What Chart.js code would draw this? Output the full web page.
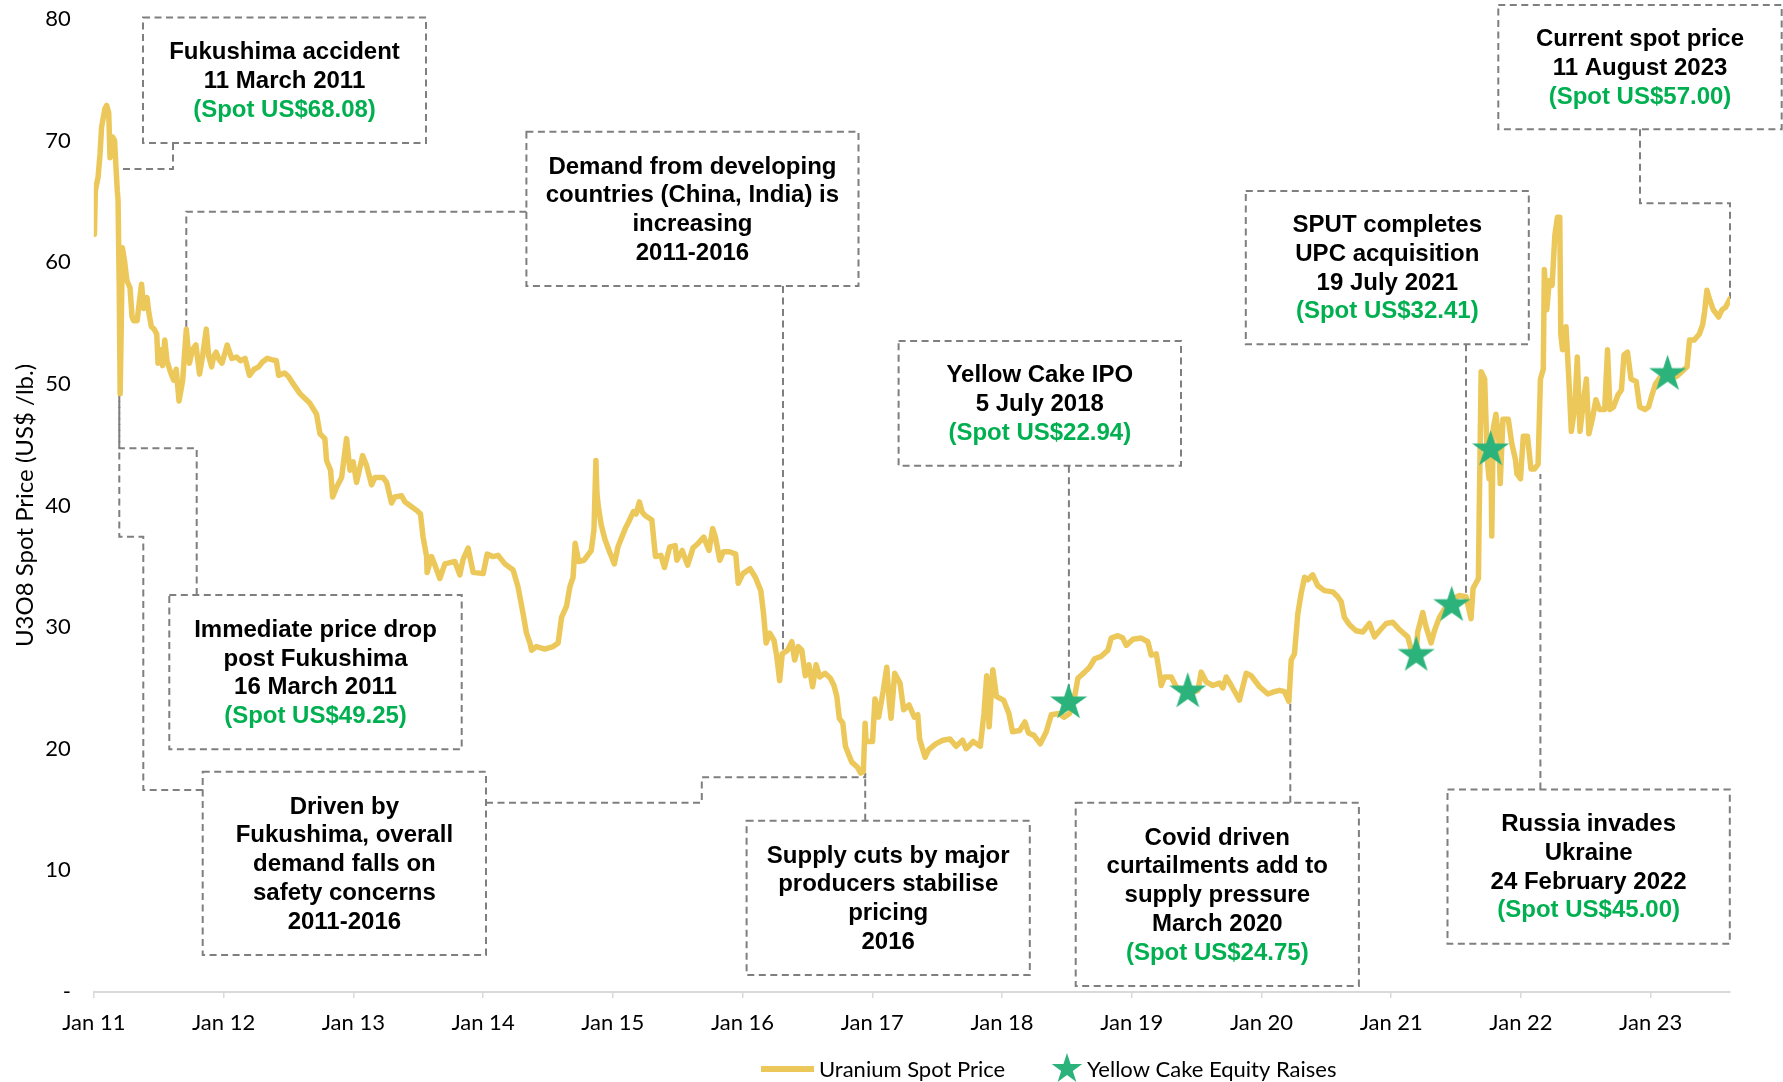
<!DOCTYPE html>
<html>
<head>
<meta charset="utf-8">
<title>U3O8 spot price</title>
<script src="https://cdn.jsdelivr.net/npm/chart.js@4.4.1/dist/chart.umd.min.js"></script>
<style>
  html, body { margin: 0; padding: 0; background: #fff; }
  canvas { display: block; }
</style>
</head>
<body>
<canvas id="spot-chart" width="1783" height="1082"></canvas>
<script>
// spot price readings, x as decimal year
const priceYears = [
  2011.005, 2011.012, 2011.033, 2011.048, 2011.060, 2011.085, 2011.099, 2011.115, 2011.125, 2011.145, 2011.160, 2011.171, 2011.181, 2011.187, 2011.196, 2011.203, 2011.212, 2011.220, 2011.237, 2011.255, 2011.279, 2011.295, 2011.307, 2011.334, 2011.352, 2011.368, 2011.385, 2011.410, 2011.425, 2011.444, 2011.465, 2011.485, 2011.495, 2011.515, 2011.530, 2011.547, 2011.564, 2011.590, 2011.616, 2011.635, 2011.657, 2011.672, 2011.685, 2011.713, 2011.737, 2011.760, 2011.787, 2011.815, 2011.840, 2011.867, 2011.885, 2011.908, 2011.925, 2011.943, 2011.965, 2011.988,
  2012.010, 2012.028, 2012.063, 2012.100, 2012.130, 2012.166, 2012.200, 2012.235, 2012.270, 2012.300, 2012.338, 2012.370, 2012.407, 2012.425, 2012.470, 2012.500, 2012.537, 2012.589, 2012.666, 2012.717, 2012.743, 2012.781, 2012.794, 2012.825, 2012.841, 2012.871, 2012.910, 2012.948, 2012.974, 2012.999,
  2013.025, 2013.072, 2013.102, 2013.141, 2013.166, 2013.230, 2013.257, 2013.295, 2013.320, 2013.372, 2013.398, 2013.436, 2013.488, 2013.518, 2013.538, 2013.565, 2013.569, 2013.603, 2013.629, 2013.667, 2013.706, 2013.783, 2013.821, 2013.847, 2013.885, 2013.924,
  2014.001, 2014.032, 2014.078, 2014.116, 2014.168, 2014.232, 2014.270, 2014.309, 2014.335, 2014.361, 2014.374, 2014.412, 2014.476, 2014.540, 2014.579, 2014.605, 2014.643, 2014.669, 2014.694, 2014.710, 2014.737, 2014.779, 2014.834, 2014.855, 2014.870, 2014.878, 2014.889, 2014.911, 2014.940, 2014.971,
  2015.012, 2015.040, 2015.096, 2015.120, 2015.159, 2015.180, 2015.205, 2015.225, 2015.247, 2015.301, 2015.329, 2015.371, 2015.398, 2015.439, 2015.481, 2015.494, 2015.535, 2015.577, 2015.618, 2015.659, 2015.701, 2015.742, 2015.770, 2015.791, 2015.825, 2015.852, 2015.900, 2015.948, 2015.967,
  2016.003, 2016.058, 2016.099, 2016.141, 2016.162, 2016.182, 2016.210, 2016.243, 2016.264, 2016.286, 2016.306, 2016.347, 2016.380, 2016.402, 2016.430, 2016.457, 2016.484, 2016.512, 2016.540, 2016.567, 2016.595, 2016.636, 2016.677, 2016.705, 2016.727, 2016.746, 2016.773, 2016.793, 2016.815, 2016.842, 2016.884, 2016.911, 2016.931, 2016.945, 2016.952,
  2017.002, 2017.021, 2017.049, 2017.085, 2017.112, 2017.130, 2017.145, 2017.173, 2017.214, 2017.242, 2017.283, 2017.324, 2017.351, 2017.365, 2017.407, 2017.434, 2017.489, 2017.544, 2017.599, 2017.646, 2017.696, 2017.723, 2017.778, 2017.833, 2017.861, 2017.882, 2017.901, 2017.929, 2017.957,
  2018.012, 2018.053, 2018.081, 2018.136, 2018.177, 2018.204, 2018.246, 2018.295, 2018.341, 2018.380, 2018.438, 2018.479, 2018.521, 2018.560, 2018.585, 2018.637, 2018.675, 2018.714, 2018.765, 2018.816, 2018.842, 2018.893, 2018.931, 2018.958,
  2019.009, 2019.073, 2019.124, 2019.150, 2019.189, 2019.214, 2019.227, 2019.253, 2019.304, 2019.343, 2019.433, 2019.510, 2019.535, 2019.574, 2019.625, 2019.676, 2019.702, 2019.728, 2019.767, 2019.830, 2019.882, 2019.921, 2019.985,
  2020.049, 2020.100, 2020.139, 2020.177, 2020.211, 2020.229, 2020.254, 2020.280, 2020.306, 2020.332, 2020.357, 2020.395, 2020.434, 2020.485, 2020.549, 2020.588, 2020.614, 2020.639, 2020.678, 2020.729, 2020.781, 2020.832, 2020.871, 2020.910, 2020.961,
  2021.012, 2021.063, 2021.127, 2021.153, 2021.191, 2021.204, 2021.243, 2021.269, 2021.307, 2021.333, 2021.371, 2021.423, 2021.474, 2021.525, 2021.576, 2021.615, 2021.631, 2021.672, 2021.677, 2021.693, 2021.720, 2021.740, 2021.754, 2021.767, 2021.775, 2021.786, 2021.807, 2021.829, 2021.840, 2021.861, 2021.902, 2021.929, 2021.957, 2021.969, 2021.996,
  2022.018, 2022.050, 2022.077, 2022.104, 2022.132, 2022.150, 2022.172, 2022.180, 2022.199, 2022.218, 2022.240, 2022.261, 2022.281, 2022.299, 2022.307, 2022.320, 2022.347, 2022.369, 2022.388, 2022.415, 2022.434, 2022.455, 2022.483, 2022.504, 2022.523, 2022.550, 2022.577, 2022.604, 2022.645, 2022.667, 2022.686, 2022.713, 2022.748, 2022.774, 2022.794, 2022.821, 2022.848, 2022.888, 2022.915, 2022.956, 2022.983,
  2023.010, 2023.037, 2023.077, 2023.131, 2023.199, 2023.240, 2023.280, 2023.299, 2023.334, 2023.375, 2023.401, 2023.415, 2023.433, 2023.455, 2023.482, 2023.523, 2023.550, 2023.577, 2023.611
];
const priceValues = [
  62.3, 65.9, 67.0, 68.9, 71.1, 72.6, 72.9, 72.3, 68.6, 70.3, 70.0, 67.8, 65.9, 65.1, 58.0, 49.2, 55.0, 61.2, 60.1, 58.5, 57.9, 55.5, 55.2, 55.2, 56.8, 58.2, 56.2, 57.1, 55.8, 54.7, 54.5, 54.1, 51.7, 52.8, 51.5, 53.6, 51.9, 51.0, 50.3, 51.2, 48.6, 49.5, 50.3, 54.5, 51.7, 52.8, 53.2, 50.8, 52.4, 54.5, 52.3, 51.4, 52.3, 52.6, 52.0, 51.7,
  52.5, 53.2, 52.1, 52.2, 51.9, 52.1, 50.7, 51.2, 51.4, 51.8, 52.1, 52.0, 51.9, 50.7, 50.9, 50.6, 50.0, 49.2, 48.4, 47.5, 45.9, 45.5, 43.7, 42.9, 40.7, 41.5, 42.3, 45.5, 42.9, 43.6,
  41.9, 44.1, 43.3, 41.7, 42.3, 42.3, 41.9, 40.2, 40.7, 40.8, 40.3, 40.0, 39.6, 39.3, 37.4, 35.8, 34.5, 35.8, 35.1, 34.0, 35.2, 35.4, 34.3, 35.6, 36.5, 34.5,
  34.4, 36.0, 35.8, 35.9, 35.2, 34.7, 33.3, 31.1, 29.5, 28.7, 28.1, 28.4, 28.2, 28.4, 28.7, 30.8, 31.7, 33.3, 34.1, 36.9, 35.4, 35.5, 36.3, 38.0, 43.7, 41.0, 39.9, 38.4, 37.2, 36.3,
  35.2, 36.6, 38.1, 38.6, 39.5, 39.3, 40.3, 39.5, 39.2, 38.8, 35.8, 35.9, 34.9, 36.6, 36.7, 35.5, 36.3, 35.1, 36.5, 36.9, 37.4, 36.3, 38.1, 37.4, 35.5, 36.2, 36.2, 36.0, 33.6,
  34.4, 34.8, 34.1, 33.0, 31.1, 28.7, 29.5, 28.9, 27.6, 25.6, 27.8, 28.1, 28.8, 27.3, 28.4, 28.1, 26.0, 26.9, 25.1, 26.9, 25.9, 26.2, 25.8, 25.2, 24.3, 22.5, 22.1, 20.2, 19.6, 18.9, 18.5, 18.0, 18.1, 22.1, 20.6,
  20.6, 24.1, 22.6, 24.8, 26.7, 24.0, 22.5, 26.2, 25.4, 23.2, 23.6, 22.6, 22.8, 20.8, 19.3, 19.9, 20.4, 20.7, 20.8, 20.2, 20.7, 20.0, 20.6, 20.2, 22.9, 26.0, 21.8, 26.5, 24.3,
  24.0, 22.9, 21.4, 21.5, 22.2, 21.3, 21.1, 20.4, 21.4, 22.8, 22.9, 22.6, 22.9, 24.3, 25.8, 26.3, 26.7, 27.4, 27.6, 28.1, 29.1, 29.3, 29.1, 28.5,
  29.0, 29.1, 28.8, 27.7, 27.8, 26.2, 25.2, 25.9, 25.9, 25.1, 24.5, 24.8, 26.3, 25.5, 25.2, 25.4, 25.0, 25.9, 25.2, 24.0, 26.2, 26.0, 25.1,
  24.5, 24.7, 24.8, 24.7, 23.9, 27.3, 27.8, 31.1, 32.8, 34.1, 33.9, 34.3, 33.4, 33.0, 32.9, 32.5, 32.1, 30.8, 30.2, 29.7, 29.6, 30.3, 29.2, 29.7, 30.3,
  30.4, 29.8, 29.2, 28.2, 27.8, 29.6, 31.2, 30.0, 28.7, 29.7, 30.8, 31.7, 32.3, 32.6, 32.5, 30.7, 33.2, 34.0, 38.5, 51.0, 50.4, 43.8, 42.2, 45.5, 37.5, 46.3, 47.5, 45.5, 41.8, 47.1, 47.1, 45.1, 43.8, 42.6, 42.2,
  45.7, 45.7, 43.0, 43.0, 43.4, 50.4, 51.2, 59.4, 56.1, 58.5, 58.1, 62.2, 63.7, 63.7, 54.1, 52.8, 54.7, 50.4, 46.1, 48.1, 52.2, 46.1, 48.7, 50.4, 45.9, 47.1, 48.7, 47.9, 47.9, 52.8, 47.9, 48.1, 49.1, 49.5, 52.4, 52.6, 50.4, 50.2, 48.1, 47.9, 48.1,
  49.1, 50.0, 50.6, 50.8, 50.6, 51.0, 51.4, 53.6, 53.6, 54.1, 54.9, 55.9, 57.7, 56.9, 56.1, 55.5, 56.1, 56.3, 57.0
];

// Yellow Cake equity raises (stars)
const raiseYears = [2018.513, 2019.432, 2021.192, 2021.466, 2021.766, 2023.130];
const raiseValues = [23.8, 24.7, 27.7, 31.8, 44.6, 50.8];

const xTickYears = [2011, 2012, 2013, 2014, 2015, 2016, 2017, 2018, 2019, 2020, 2021, 2022, 2023];
const xTickLabels = ['Jan 11', 'Jan 12', 'Jan 13', 'Jan 14', 'Jan 15', 'Jan 16', 'Jan 17', 'Jan 18', 'Jan 19', 'Jan 20', 'Jan 21', 'Jan 22', 'Jan 23'];
const yTickValues = [0, 10, 20, 30, 40, 50, 60, 70, 80];
const yTickLabels = ['-', '10', '20', '30', '40', '50', '60', '70', '80'];

const GOLD = '#ecc85b';
const STAR_GREEN = '#2bb37b';
const SPOT_GREEN = '#00b050';
const DASH_GREY = '#7f7f7f';
const AXIS_FONT = 'Lato, "Open Sans", sans-serif';
const NOTE_FONT = 'bold 24px "Liberation Sans", Arial, sans-serif';
const NOTE_LINE = 28.7;

// boxes are [left, top, right, bottom] in canvas px; each connector ends on the price line
const notes = [
  { box: [143, 17.5, 426, 143], lines: ['Fukushima accident', '11 March 2011', '(Spot US$68.08)'],
    paths: [{ pts: [[173, 143], [173, 169]], toYear: 2011.19 }] },
  { box: [526.4, 131.7, 858.5, 286], lines: ['Demand from developing', 'countries (China, India) is', 'increasing', '2011-2016'],
    paths: [{ pts: [[526.4, 211.7], [186.3, 211.7]], toValue: 54.5 }, { pts: [[783, 286]], toValue: 27.9 }] },
  { box: [169.3, 595, 461.7, 749.3], lines: ['Immediate price drop', 'post Fukushima', '16 March 2011', '(Spot US$49.25)'],
    paths: [{ pts: [[196.7, 595], [196.7, 448.3], [119.3, 448.3]], toValue: 49.25 }] },
  { box: [202.7, 771.7, 486, 955], lines: ['Driven by', 'Fukushima, overall', 'demand falls on', 'safety concerns', '2011-2016'],
    paths: [{ pts: [[202.7, 790], [143.3, 790], [143.3, 536.7], [119.3, 536.7]], toValue: 49.25 },
            { pts: [[486, 802.7], [701.8, 802.7], [701.8, 777.3], [865.2, 777.3]], toValue: 18.0 }] },
  { box: [746.6, 820.7, 1029.8, 975], lines: ['Supply cuts by major', 'producers stabilise', 'pricing', '2016'],
    paths: [{ pts: [[865.2, 820.7]], toValue: 18.0 }] },
  { box: [898.6, 341, 1181, 465.7], lines: ['Yellow Cake IPO', '5 July 2018', '(Spot US$22.94)'],
    paths: [{ pts: [[1068.9, 465.7]], toValue: 23.8 }] },
  { box: [1075.7, 802.8, 1358.9, 985.9], lines: ['Covid driven', 'curtailments add to', 'supply pressure', 'March 2020', '(Spot US$24.75)'],
    paths: [{ pts: [[1290.3, 802.8]], toValue: 24.0 }] },
  { box: [1245.8, 191, 1528.8, 344.2], lines: ['SPUT completes', 'UPC acquisition', '19 July 2021', '(Spot US$32.41)'],
    paths: [{ pts: [[1466, 344.2]], toValue: 32.8 }] },
  { box: [1447.5, 789.5, 1729.8, 943.7], lines: ['Russia invades', 'Ukraine', '24 February 2022', '(Spot US$45.00)'],
    paths: [{ pts: [[1540.4, 789.5]], toValue: 42.6 }] },
  { box: [1498.3, 5, 1781.7, 129.3], lines: ['Current spot price', '11 August 2023', '(Spot US$57.00)'],
    paths: [{ pts: [[1640, 129.3], [1640, 203.3], [1730, 203.3]], toValue: 57.0 }] }
];

function makeStar(r, color) {
  const c = document.createElement('canvas');
  const size = Math.ceil(r * 2) + 2;
  c.width = size;
  c.height = size;
  const g = c.getContext('2d');
  g.fillStyle = color;
  g.beginPath();
  for (let i = 0; i < 10; i++) {
    const rad = i % 2 === 0 ? r : r * 0.382;
    const a = -Math.PI / 2 + i * Math.PI / 5;
    const px = size / 2 + rad * Math.cos(a);
    const py = size / 2 + rad * Math.sin(a);
    if (i === 0) g.moveTo(px, py); else g.lineTo(px, py);
  }
  g.closePath();
  g.fill();
  return c;
}

const bigStar = makeStar(19.5, STAR_GREEN);
const legendStar = makeStar(16, STAR_GREEN);

const notesPlugin = {
  id: 'notes',
  beforeDatasetsDraw(chart) {
    const ctx = chart.ctx;
    const xs = chart.scales.x, ys = chart.scales.y;
    ctx.save();
    ctx.strokeStyle = DASH_GREY;
    ctx.lineWidth = 2;
    ctx.setLineDash([7, 4.5]);
    notes.forEach(n => {
      const [l, t, r, b] = n.box;
      ctx.strokeRect(l, t, r - l, b - t);
      n.paths.forEach(p => {
        const pts = p.pts.slice();
        const last = pts[pts.length - 1];
        if (p.toYear !== undefined) pts.push([xs.getPixelForValue(p.toYear), last[1]]);
        else pts.push([last[0], ys.getPixelForValue(p.toValue)]);
        ctx.beginPath();
        pts.forEach((pt, i) => i ? ctx.lineTo(pt[0], pt[1]) : ctx.moveTo(pt[0], pt[1]));
        ctx.stroke();
      });
    });
    ctx.setLineDash([]);
    ctx.font = NOTE_FONT;
    ctx.textAlign = 'center';
    ctx.textBaseline = 'middle';
    notes.forEach(n => {
      const [l, t, r, b] = n.box;
      const cx = (l + r) / 2;
      const y0 = (t + b) / 2 + 1.2 - (n.lines.length - 1) * NOTE_LINE / 2;
      n.lines.forEach((s, i) => {
        ctx.fillStyle = s.startsWith('(Spot') ? SPOT_GREEN : '#000';
        ctx.fillText(s, cx, y0 + i * NOTE_LINE);
      });
    });
    ctx.restore();
  }
};

const legendPlugin = {
  id: 'bottomLegend',
  afterDraw(chart) {
    const ctx = chart.ctx;
    const ly = 1069;
    const sets = chart.data.datasets;
    ctx.save();
    ctx.strokeStyle = GOLD;
    ctx.lineWidth = 6;
    ctx.beginPath();
    ctx.moveTo(761, ly);
    ctx.lineTo(814, ly);
    ctx.stroke();
    ctx.drawImage(legendStar, 1067 - legendStar.width / 2, ly - legendStar.height / 2);
    ctx.fillStyle = '#000';
    ctx.font = '22px ' + AXIS_FONT;
    ctx.textAlign = 'left';
    ctx.textBaseline = 'middle';
    ctx.fillText(sets[1].label, 819, ly + 1);
    ctx.fillText(sets[0].label, 1087, ly + 1);
    ctx.restore();
  }
};

new Chart(document.getElementById('spot-chart'), {
  type: 'line',
  data: {
    datasets: [
      {
        label: 'Yellow Cake Equity Raises',
        data: raiseYears.map((x, i) => ({ x: x, y: raiseValues[i] })),
        showLine: false,
        pointStyle: bigStar,
        pointRadius: 18,
        order: 0
      },
      {
        label: 'Uranium Spot Price',
        data: priceYears.map((x, i) => ({ x: x, y: priceValues[i] })),
        borderColor: GOLD,
        borderWidth: 5.5,
        borderJoinStyle: 'round',
        borderCapStyle: 'round',
        pointRadius: 0,
        tension: 0,
        fill: false,
        order: 1
      }
    ]
  },
  options: {
    responsive: false,
    devicePixelRatio: 1,
    animation: false,
    events: [],
    layout: { padding: { left: 0, top: 18.3, right: 53, bottom: 46 } },
    plugins: { legend: { display: false }, tooltip: { enabled: false } },
    scales: {
      x: {
        type: 'linear',
        min: 2011,
        max: priceYears[priceYears.length - 1],
        afterBuildTicks: s => { s.ticks = xTickYears.map(v => ({ value: v })); },
        afterFit: s => { s.height = 44; },
        ticks: {
          autoSkip: false,
          maxRotation: 0,
          padding: 11.5,
          color: '#000',
          font: { family: AXIS_FONT, size: 22 },
          callback: v => xTickLabels[xTickYears.indexOf(v)]
        },
        grid: { display: true, drawOnChartArea: false, drawTicks: true, tickLength: 6, color: '#d9d9d9', lineWidth: 1.5 },
        border: { display: true, color: '#d9d9d9', width: 2 }
      },
      y: {
        min: 0,
        max: 80,
        afterBuildTicks: s => { s.ticks = yTickValues.map(v => ({ value: v })); },
        afterFit: s => { s.width = 93.8; },
        ticks: {
          padding: 0,
          color: '#000',
          font: { family: AXIS_FONT, size: 22 },
          callback: v => yTickLabels[yTickValues.indexOf(v)]
        },
        // hidden tick marks only provide the gap between labels and plot
        grid: { display: false, drawTicks: true, tickLength: 23 },
        border: { display: false },
        title: {
          display: true,
          text: 'U3O8 Spot Price (US$ /lb.)',
          color: '#000',
          font: { family: AXIS_FONT, size: 24 },
          padding: { top: 10.5, bottom: 0 }
        }
      }
    }
  },
  plugins: [notesPlugin, legendPlugin]
});
</script>
</body>
</html>
